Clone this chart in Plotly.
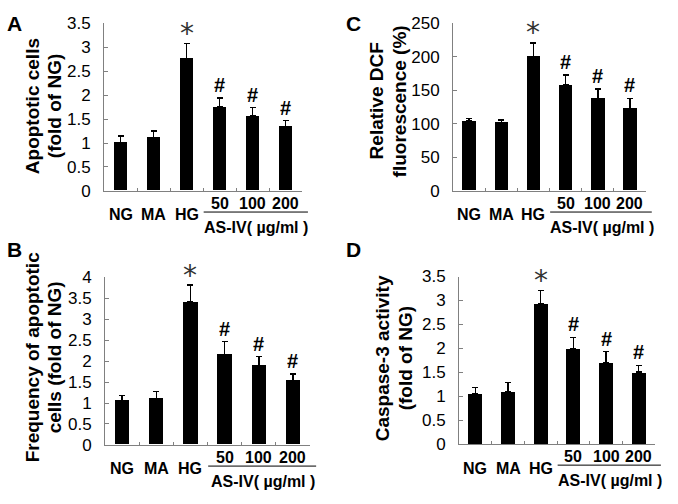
import plotly.graph_objects as go

W, H = 678, 504

categories = ["NG", "MA", "HG", "50", "100", "200"]
sig_marks = ["", "", "*", "#", "#", "#"]
group_label = "AS-IV( µg/ml )"

# Panel A: Apoptotic cells (fold of NG)
a_vals = [1.01, 1.11, 2.77, 1.75, 1.56, 1.34]
a_sd = [0.14, 0.14, 0.31, 0.19, 0.18, 0.13]
a_ticks = [0, 0.5, 1, 1.5, 2, 2.5, 3, 3.5]
a_ticktext = ["0", "0.5", "1", "1.5", "2", "2.5", "3", "3.5"]

# Panel B: Frequency of apoptotic cells (fold of NG)
b_vals = [1.06, 1.11, 3.41, 2.16, 1.90, 1.54]
b_sd = [0.12, 0.17, 0.41, 0.31, 0.21, 0.15]
b_ticks = [0, 0.5, 1, 1.5, 2, 2.5, 3, 3.5, 4]
b_ticktext = ["0", "0.5", "1", "1.5", "2", "2.5", "3", "3.5", "4"]

# Panel C: Relative DCF fluorescence (%)
c_vals = [104, 102, 200, 158, 138, 123]
c_sd = [4, 4, 21, 15, 14, 15]
c_ticks = [0, 50, 100, 150, 200, 250]
c_ticktext = ["0", "50", "100", "150", "200", "250"]

# Panel D: Caspase-3 activity (fold of NG)
d_vals = [1.05, 1.09, 2.94, 1.99, 1.70, 1.50]
d_sd = [0.13, 0.19, 0.27, 0.24, 0.23, 0.14]
d_ticks = [0, 0.5, 1, 1.5, 2, 2.5, 3, 3.5]
d_ticktext = ["0", "0.5", "1", "1.5", "2", "2.5", "3", "3.5"]

FONT = "Liberation Sans, Arial, sans-serif"
AXIS_COLOR = "#808080"
XR = (-0.5, 5.5)

panels = [
    dict(letter="A", vals=a_vals, sd=a_sd, ticks=a_ticks, ticktext=a_ticktext, ymax=3.5,
         xdom=(104, 302), ydom=(15, 189), titles=("Apoptotic cells", "(fold of NG)"),
         title_x=(32, 54), title_y=101, letter_pos=(14, 15)),
    dict(letter="B", vals=b_vals, sd=b_sd, ticks=b_ticks, ticktext=b_ticktext, ymax=4,
         xdom=(105, 310), ydom=(279, 453), titles=("Frequency of apoptotic", "cells (fold of NG)"),
         title_x=(32, 54), title_y=362, letter_pos=(14, 250)),
    dict(letter="C", vals=c_vals, sd=c_sd, ticks=c_ticks, ticktext=c_ticktext, ymax=250,
         xdom=(453, 646), ydom=(15, 189), titles=("Relative DCF", "fluorescence (%)"),
         title_x=(376, 399), title_y=96, letter_pos=(353, 15)),
    dict(letter="D", vals=d_vals, sd=d_sd, ticks=d_ticks, ticktext=d_ticktext, ymax=3.5,
         xdom=(459, 655), ydom=(278, 452), titles=("Caspase-3 activity", "(fold of NG)"),
         title_x=(382, 405), title_y=363, letter_pos=(353, 250)),
]


def px_x(p):
    return p / W


def px_y(p):
    return 1 - p / H


def data_to_px(x, dom):
    return dom[0] + (x - XR[0]) / (XR[1] - XR[0]) * (dom[1] - dom[0])


fig = go.Figure()
annotations = []
shapes = []
layout = {}
xs = list(range(len(categories)))

for i, p in enumerate(panels):
    n = "" if i == 0 else str(i + 1)
    xa, ya = "x" + n, "y" + n
    fig.add_trace(go.Bar(
        x=xs, y=p["vals"], width=0.42, marker=dict(color="black", line=dict(width=0)),
        error_y=dict(type="data", symmetric=False, array=p["sd"], arrayminus=[0] * len(xs),
                     color="black", thickness=1.5, width=3),
        xaxis=xa, yaxis=ya, showlegend=False, hoverinfo="skip"))
    layout["xaxis" + n] = dict(
        domain=[px_x(p["xdom"][0]), px_x(p["xdom"][1])], range=list(XR), anchor=ya,
        showline=True, linecolor=AXIS_COLOR, linewidth=1, showgrid=False, zeroline=False,
        tickvals=[0.5, 1.5, 2.5, 3.5, 4.5, 5.5], ticks="inside", ticklen=3, tickcolor=AXIS_COLOR,
        showticklabels=False, fixedrange=True)
    layout["yaxis" + n] = dict(
        domain=[px_y(p["ydom"][1]), px_y(p["ydom"][0])], range=[0, p["ymax"]], anchor=xa,
        showline=True, linecolor=AXIS_COLOR, linewidth=1, showgrid=False, zeroline=False,
        tickvals=p["ticks"], ticktext=p["ticktext"], ticks="inside", ticklen=4,
        tickcolor=AXIS_COLOR, tickfont=dict(family=FONT, size=17, color="black"),
        ticklabelstandoff=9, fixedrange=True)

    base = p["ydom"][1]
    # category labels
    for j, c in enumerate(categories):
        yoff = 25 if j < 3 else 13
        annotations.append(dict(
            x=j, xref=xa, y=px_y(base + yoff), yref="paper", text="<b>%s</b>" % c,
            showarrow=False, xanchor="center", yanchor="middle",
            font=dict(family=FONT, size=16, color="black")))
    # underline for dose group
    x0 = data_to_px(2.52, p["xdom"])
    x1 = data_to_px(5.68, p["xdom"])
    shapes.append(dict(type="line", xref="paper", yref="paper", x0=px_x(x0), x1=px_x(x1),
                       y0=px_y(base + 22), y1=px_y(base + 22),
                       line=dict(color="black", width=1)))
    annotations.append(dict(
        x=4.12, xref=xa, y=px_y(base + 38), yref="paper", text="<b>%s</b>" % group_label,
        showarrow=False, xanchor="center", yanchor="middle",
        font=dict(family=FONT, size=16, color="black")))
    # significance marks
    for j, m in enumerate(sig_marks):
        if not m:
            continue
        top = p["vals"][j] + p["sd"][j]
        if m == "*":
            annotations.append(dict(
                x=j, xref=xa, y=top, yref=ya, text=m, showarrow=False,
                xanchor="center", yanchor="middle", yshift=10,
                font=dict(family="DejaVu Sans", size=28, color="#333333")))
        else:
            annotations.append(dict(
                x=j, xref=xa, y=top, yref=ya, text="<b>%s</b>" % m, showarrow=False,
                xanchor="center", yanchor="middle", yshift=13,
                font=dict(family=FONT, size=20, color="black")))
    # y titles (two lines)
    for k, t in enumerate(p["titles"]):
        annotations.append(dict(
            x=px_x(p["title_x"][k]), xref="paper", y=px_y(p["title_y"]), yref="paper",
            text="<b>%s</b>" % t, textangle=-90, showarrow=False,
            xanchor="center", yanchor="middle",
            font=dict(family=FONT, size=19, color="black")))
    # panel letter
    annotations.append(dict(
        x=px_x(p["letter_pos"][0]), xref="paper", y=px_y(p["letter_pos"][1]), yref="paper",
        text="<b>%s</b>" % p["letter"], showarrow=False, xanchor="center", yanchor="middle",
        font=dict(family=FONT, size=21, color="black")))

fig.update_layout(
    width=W, height=H, margin=dict(l=0, r=0, t=0, b=0),
    paper_bgcolor="white", plot_bgcolor="white",
    annotations=annotations, shapes=shapes, bargap=0, **layout)

fig.write_html("out.html", config={"displayModeBar": False},
               post_script="document.body.style.margin='0';")
